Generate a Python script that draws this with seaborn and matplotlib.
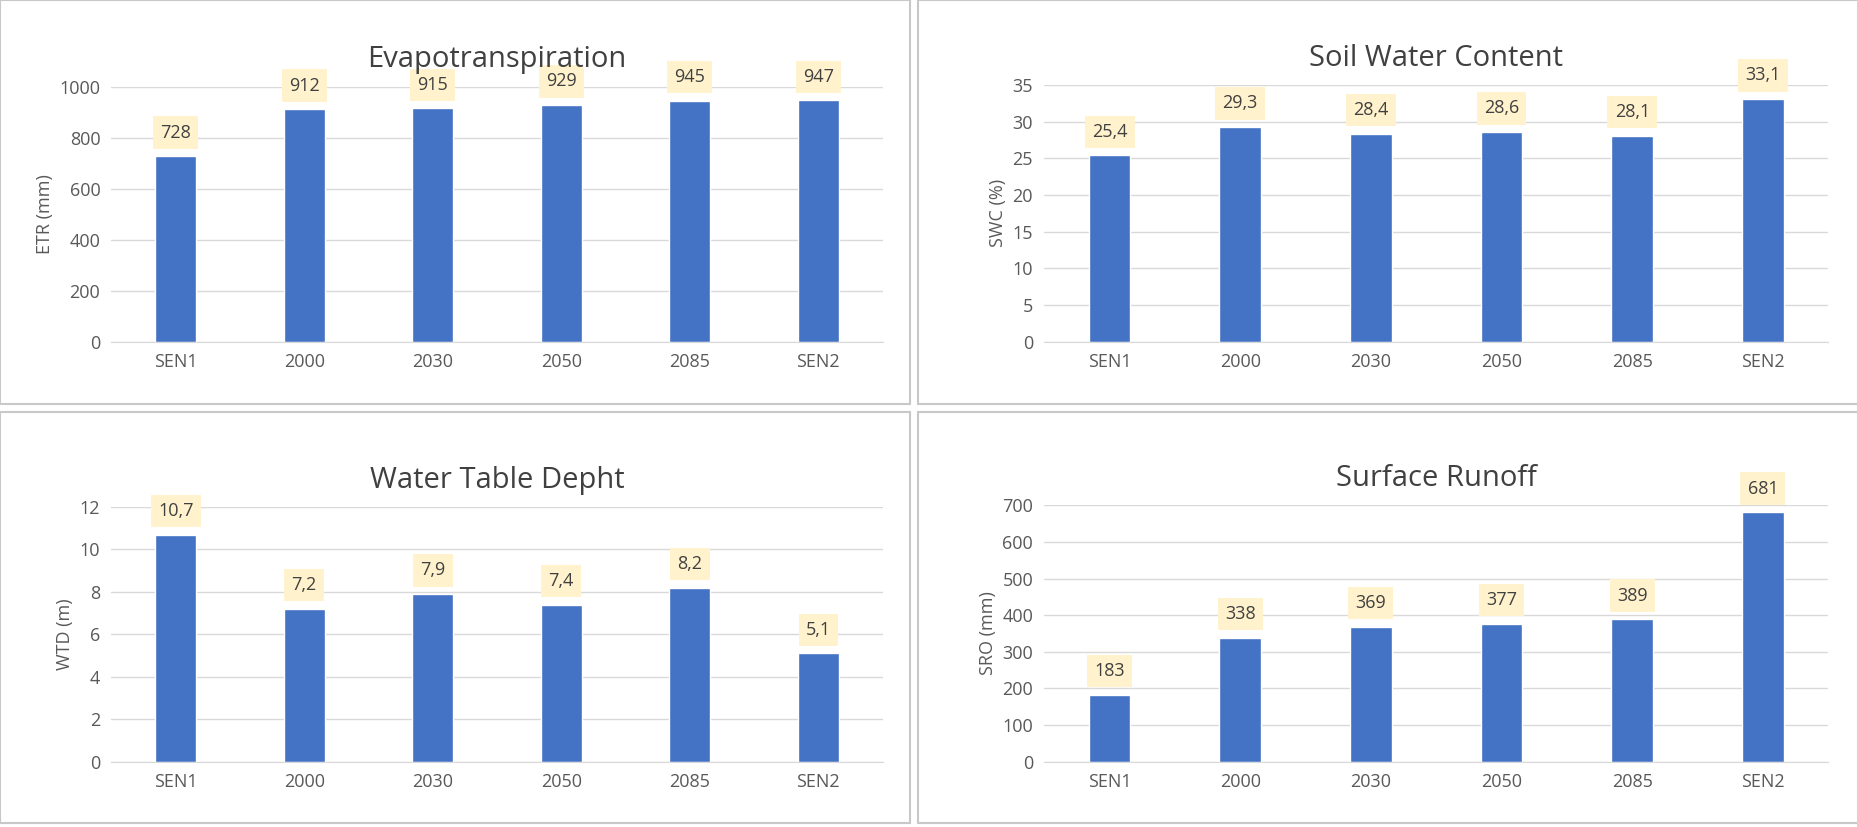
import matplotlib
matplotlib.use("Agg")
import matplotlib.pyplot as plt
import seaborn as sns
import pandas as pd
from matplotlib.patches import Rectangle

categories = ["SEN1", "2000", "2030", "2050", "2085", "SEN2"]
etr = [728, 912, 915, 929, 945, 947]
swc = [25.4, 29.3, 28.4, 28.6, 28.1, 33.1]
wtd = [10.7, 7.2, 7.9, 7.4, 8.2, 5.1]
sro = [183, 338, 369, 377, 389, 681]

panels = [
    ("Evapotranspiration", "ETR (mm)", etr, 1000, 200, 0, [0.0, 0.512, 0.49, 0.488], [0.06, 0.587, 0.415, 0.308]),
    ("Soil Water Content", "SWC (%)", swc, 35, 5, 1, [0.494, 0.512, 0.506, 0.488], [0.562, 0.587, 0.422, 0.31]),
    ("Water Table Depht", "WTD (m)", wtd, 12, 2, 1, [0.0, 0.005, 0.49, 0.497], [0.06, 0.079, 0.415, 0.308]),
    ("Surface Runoff", "SRO (mm)", sro, 700, 100, 0, [0.494, 0.005, 0.506, 0.497], [0.562, 0.079, 0.422, 0.31]),
]

sns.set_style("white")
plt.rcParams["font.family"] = ["Open Sans", "DejaVu Sans"]

fig = plt.figure(figsize=(18.58, 8.27), dpi=100)
for title, ylabel, vals, ymax, step, dec, box, rect in panels:
    fig.patches.append(Rectangle((box[0], box[1]), box[2], box[3], transform=fig.transFigure,
                                 fill=False, edgecolor="#c8c8c8", linewidth=1.5))
    ax = fig.add_axes(rect)
    df = pd.DataFrame({"cat": categories, "val": vals})
    sns.barplot(data=df, x="cat", y="val", color="#4472C4", width=0.32, saturation=1, ax=ax)
    ax.set_ylim(0, ymax)
    ax.set_yticks(range(0, ymax + 1, step))
    ax.yaxis.grid(True, color="#d9d9d9", linewidth=1)
    ax.set_axisbelow(True)
    for s in ["top", "right", "left"]:
        ax.spines[s].set_visible(False)
    ax.spines["bottom"].set_color("#d9d9d9")
    ax.tick_params(axis="both", length=0, labelsize=13, colors="#595959", pad=8)
    ax.set_xlabel("")
    ax.set_ylabel(ylabel, fontsize=13, color="#595959")
    ax.set_title(title, fontsize=21, color="#404040", pad=14)
    for i, v in enumerate(vals):
        txt = f"{v:.{dec}f}".replace(".", ",")
        ax.annotate(txt, (i, v), xytext=(0, 17), textcoords="offset points", ha="center", va="center",
                    fontsize=13, color="#404040", annotation_clip=False,
                    bbox=dict(boxstyle="square,pad=0.4", fc="#FFF2CC", ec="none"))

fig.savefig("out.png", dpi=100)
